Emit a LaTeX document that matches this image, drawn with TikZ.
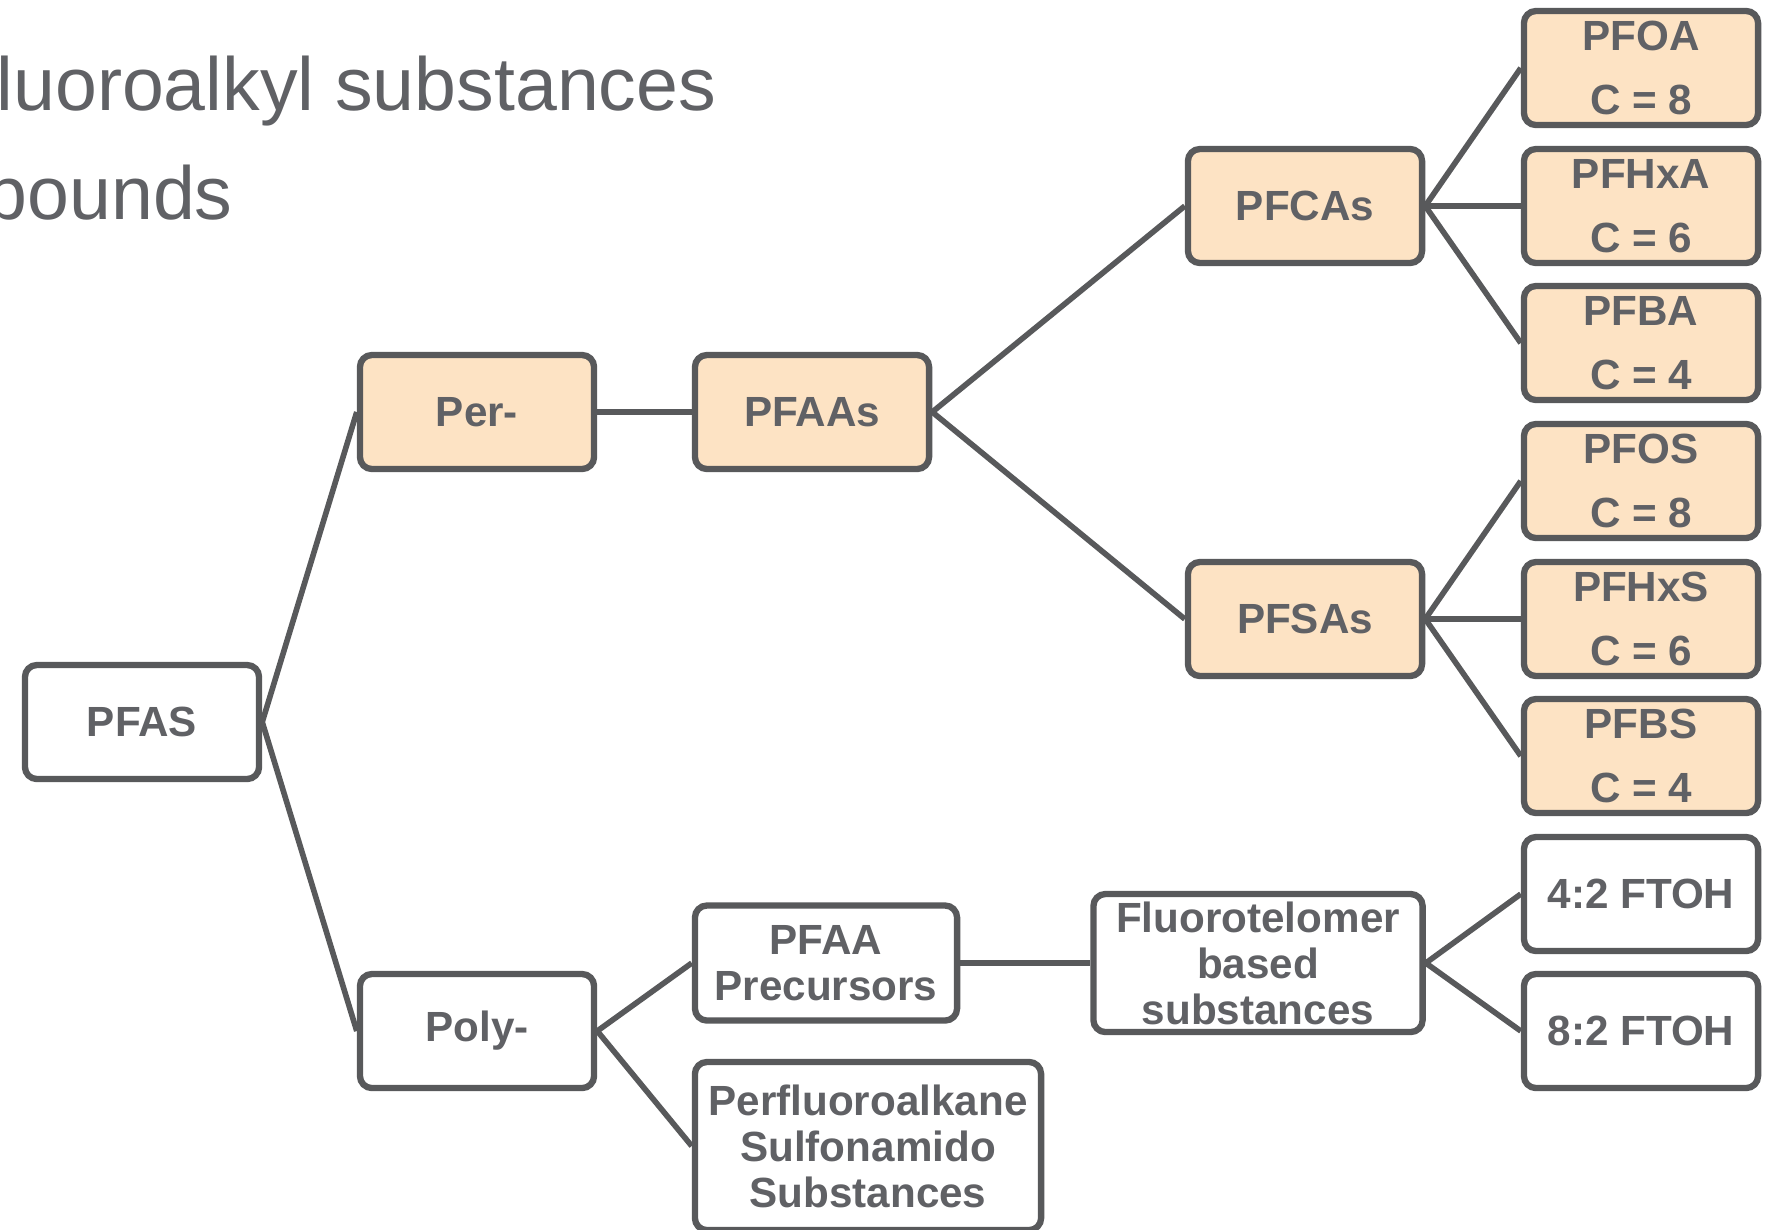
\documentclass[tikz,border=0pt]{standalone}
\usepackage{fontspec}
\setmainfont{Liberation Sans}
\usepackage{xcolor}
\definecolor{boxline}{HTML}{58595B}
\definecolor{boxtext}{HTML}{606165}
\definecolor{peach}{HTML}{FDE3C4}

\begin{document}
\begin{tikzpicture}[x=0.01cm,y=-0.01cm,
	box/.style={draw=boxline,line width=1.8pt,rounded corners=1.2mm,fill=white,text=boxtext,
		font=\fontsize{12}{13.1}\selectfont\bfseries,align=center,inner sep=0pt,
		minimum width=2.34cm,minimum height=1.14cm},
	pbox/.style={box,fill=peach},
	cbox/.style={pbox,font=\fontsize{12}{18.2}\selectfont\bfseries},
	link/.style={draw=boxline,line width=1.6pt}]
		\clip (0,0) rectangle (1774,1229);
		% title, cut at the left edge
		\node[anchor=base west,inner sep=0pt,text=boxtext,font=\fontsize{21.4}{25}\selectfont] (ttl1) at (-4,110) {luoroalkyl substances};
		\node[anchor=base west,inner sep=0pt,text=boxtext,font=\fontsize{21.4}{25}\selectfont] (ttl2) at (-15,219) {pounds};
		% tree
		\node[box] (pfas) at (142,722) {PFAS};
		\node[pbox] (per) at (477,412) {Per-};
		\node[box] (poly) at (477,1031) {Poly-};
		\node[pbox] (pfaas) at (812,412) {PFAAs};
		\node[pbox] (pfcas) at (1305,206) {PFCAs};
		\node[pbox] (pfsas) at (1305,619) {PFSAs};
		\node[cbox] (pfoa) at (1641,68) {PFOA\\C = 8};
		\node[cbox] (pfhxa) at (1641,206) {PFHxA\\C = 6};
		\node[cbox] (pfba) at (1641,343) {PFBA\\C = 4};
		\node[cbox] (pfos) at (1641,481) {PFOS\\C = 8};
		\node[cbox] (pfhxs) at (1641,619) {PFHxS\\C = 6};
		\node[cbox] (pfbs) at (1641,756) {PFBS\\C = 4};
		\node[box] (ftoh4) at (1641,894) {4:2 FTOH};
		\node[box] (ftoh8) at (1641,1031) {8:2 FTOH};
		\node[box,minimum width=2.62cm,minimum height=1.15cm] (prec) at (826,963) {PFAA\\Precursors};
		\node[box,minimum width=3.29cm,minimum height=1.38cm] (ftel) at (1258,963) {Fluorotelomer\\based\\substances};
		\node[box,minimum width=3.46cm,minimum height=1.68cm] (psub) at (868,1146) {Perfluoroalkane\\Sulfonamido\\Substances};
		% connectors
		\draw[link] (pfas.east) -- (per.west);
		\draw[link] (pfas.east) -- (poly.west);
		\draw[link] (per.east) -- (pfaas.west);
		\draw[link] (pfaas.east) -- (pfcas.west);
		\draw[link] (pfaas.east) -- (pfsas.west);
		\draw[link] (pfcas.east) -- (pfoa.west);
		\draw[link] (pfcas.east) -- (pfhxa.west);
		\draw[link] (pfcas.east) -- (pfba.west);
		\draw[link] (pfsas.east) -- (pfos.west);
		\draw[link] (pfsas.east) -- (pfhxs.west);
		\draw[link] (pfsas.east) -- (pfbs.west);
		\draw[link] (poly.east) -- (prec.west);
		\draw[link] (poly.east) -- (psub.west);
		\draw[link] (prec.east) -- (ftel.west);
		\draw[link] (ftel.east) -- (ftoh4.west);
		\draw[link] (ftel.east) -- (ftoh8.west);
\end{tikzpicture}
\end{document}
